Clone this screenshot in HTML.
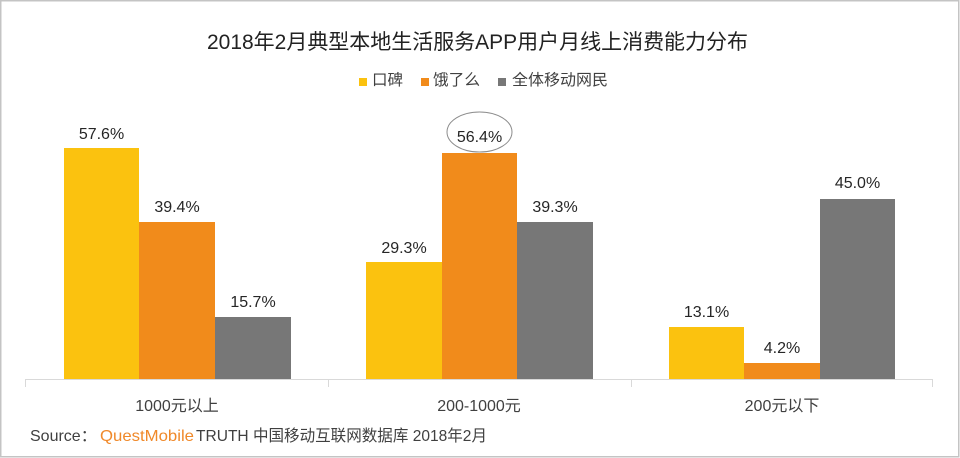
<!DOCTYPE html>
<html>
<head>
<meta charset="utf-8">
<style>
  html,body{margin:0;padding:0;background:#fff;}
  svg{display:block;}
  text{font-family:"Liberation Sans","Noto Sans CJK SC",sans-serif;}
</style>
</head>
<body>
<svg width="960" height="458" viewBox="0 0 960 458" xmlns="http://www.w3.org/2000/svg">
  <rect x="0" y="0" width="960" height="458" fill="#ffffff"/>
  <rect x="0.75" y="0.75" width="958" height="456" fill="none" stroke="#c4c4c4" stroke-width="1.5"/>

  <!-- Title -->
  <text x="207" y="49" font-size="21" fill="#222222" textLength="541" lengthAdjust="spacingAndGlyphs">2018年2月典型本地生活服务APP用户月线上消费能力分布</text>

  <!-- Legend -->
  <rect x="359" y="78" width="8" height="8" fill="#FBC20F"/>
  <text x="372" y="85" font-size="15.5" fill="#404040" textLength="31" lengthAdjust="spacingAndGlyphs">口碑</text>
  <rect x="421" y="78" width="8" height="8" fill="#F18B1B"/>
  <text x="433" y="85" font-size="15.5" fill="#404040" textLength="47" lengthAdjust="spacingAndGlyphs">饿了么</text>
  <rect x="498" y="78" width="8" height="8" fill="#777777"/>
  <text x="512" y="85" font-size="15.5" fill="#404040" textLength="96" lengthAdjust="spacingAndGlyphs">全体移动网民</text>

  <!-- Bars group 1 -->
  <rect x="64" y="148" width="75" height="231" fill="#FBC20F"/>
  <rect x="139" y="222" width="76" height="157" fill="#F18B1B"/>
  <rect x="215" y="317" width="76" height="62" fill="#777777"/>
  <!-- Bars group 2 -->
  <rect x="366" y="262" width="76" height="117" fill="#FBC20F"/>
  <rect x="442" y="153" width="75" height="226" fill="#F18B1B"/>
  <rect x="517" y="222" width="76" height="157" fill="#777777"/>
  <!-- Bars group 3 -->
  <rect x="669" y="327" width="75" height="52" fill="#FBC20F"/>
  <rect x="744" y="363" width="76" height="16" fill="#F18B1B"/>
  <rect x="820" y="199" width="75" height="180" fill="#777777"/>

  <!-- Axis -->
  <g stroke="#d9d9d9" stroke-width="1">
    <line x1="25" y1="379.5" x2="933" y2="379.5"/>
    <line x1="25.5" y1="379" x2="25.5" y2="387"/>
    <line x1="328.5" y1="379" x2="328.5" y2="387"/>
    <line x1="631.5" y1="379" x2="631.5" y2="387"/>
    <line x1="932.5" y1="379" x2="932.5" y2="387"/>
  </g>

  <!-- Data labels -->
  <g font-size="16" fill="#262626" text-anchor="middle">
    <text x="101.5" y="139">57.6%</text>
    <text x="177" y="212">39.4%</text>
    <text x="253" y="307">15.7%</text>
    <text x="404" y="253">29.3%</text>
    <text x="479.5" y="142">56.4%</text>
    <text x="555" y="212">39.3%</text>
    <text x="706.5" y="317">13.1%</text>
    <text x="782" y="353">4.2%</text>
    <text x="857.5" y="188">45.0%</text>
  </g>

  <!-- Highlight ellipse -->
  <ellipse cx="479.5" cy="132" rx="32.5" ry="20" fill="none" stroke="#8c8c8c" stroke-width="1"/>

  <!-- Category labels -->
  <g font-size="16" fill="#404040" text-anchor="middle">
    <text x="177" y="411">1000元以上</text>
    <text x="479" y="411">200-1000元</text>
    <text x="782" y="411">200元以下</text>
  </g>

  <!-- Source -->
  <text x="30" y="441" font-size="16" fill="#404040">Source：</text>
  <text x="100" y="441" font-size="16" fill="#F0892A" textLength="94" lengthAdjust="spacingAndGlyphs">QuestMobile</text>
  <text x="196" y="441" font-size="16" fill="#404040" textLength="291" lengthAdjust="spacingAndGlyphs">TRUTH 中国移动互联网数据库 2018年2月</text>
</svg>
</body>
</html>
